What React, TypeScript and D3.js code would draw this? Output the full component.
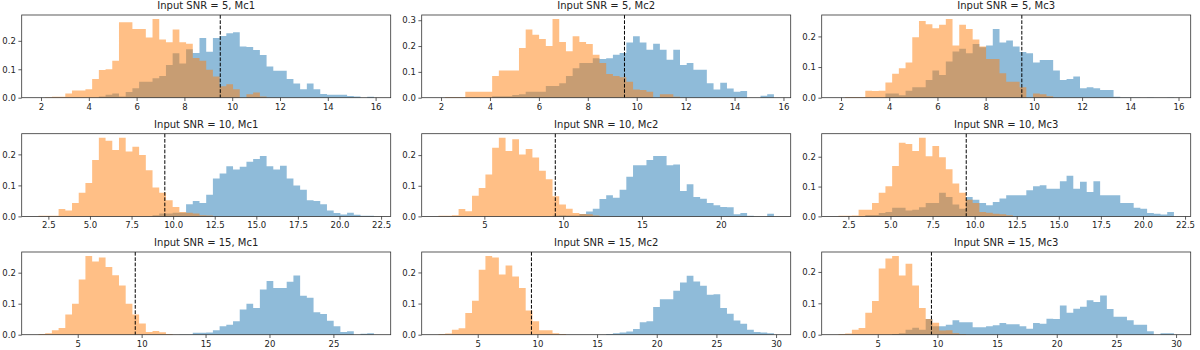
import React, { useEffect, useRef } from "react";
import * as d3 from "d3";

// density per bin (50 shared bins per panel)
const orange5Mc1 = [0, 0.002, 0.003, 0.003, 0.015, 0.025, 0.025, 0.03, 0.066, 0.097, 0.1, 0.13, 0.265, 0.265, 0.242, 0.242, 0.212, 0.277, 0.205, 0.195, 0.24, 0.195, 0.19, 0.14, 0.13, 0.098, 0.075, 0.04, 0.047, 0.03, 0, 0.012, 0.018, 0.004, 0, 0, 0, 0, 0, 0, 0, 0, 0, 0, 0, 0, 0, 0, 0, 0];
const blue5Mc1 = [0, 0, 0, 0, 0, 0, 0, 0, 0, 0.004, 0.01, 0.015, 0.004, 0.02, 0.033, 0.056, 0.056, 0.068, 0.076, 0.115, 0.156, 0.12, 0.17, 0.157, 0.21, 0.162, 0.21, 0.217, 0.227, 0.23, 0.18, 0.178, 0.168, 0.15, 0.11, 0.095, 0.095, 0.066, 0.05, 0.03, 0.05, 0.03, 0.013, 0.01, 0.01, 0.01, 0.006, 0.004, 0, 0.003];
const orange5Mc2 = [0, 0.003, 0.003, 0.003, 0.023, 0.023, 0.023, 0.023, 0.084, 0.105, 0.105, 0.105, 0.192, 0.264, 0.244, 0.227, 0.2, 0.305, 0.216, 0.18, 0.238, 0.216, 0.208, 0.166, 0.134, 0.092, 0.084, 0.079, 0.062, 0.032, 0.03, 0.023, 0, 0.013, 0.013, 0.004, 0, 0, 0, 0, 0, 0, 0, 0, 0, 0, 0, 0, 0, 0];
const blue5Mc2 = [0, 0, 0, 0, 0, 0, 0, 0, 0.006, 0.006, 0.006, 0.01, 0.013, 0.023, 0.023, 0.023, 0.045, 0.045, 0.056, 0.084, 0.114, 0.134, 0.134, 0.153, 0.15, 0.153, 0.166, 0.173, 0.214, 0.238, 0.214, 0.186, 0.209, 0.186, 0.147, 0.186, 0.127, 0.134, 0.108, 0.108, 0.056, 0.032, 0.058, 0.036, 0.023, 0.026, 0, 0, 0.008, 0.013];
const orange5Mc3 = [0, 0.002, 0.002, 0.002, 0.023, 0.022, 0.023, 0.05, 0.078, 0.096, 0.115, 0.197, 0.25, 0.24, 0.227, 0.238, 0.257, 0.17, 0.238, 0.224, 0.19, 0.167, 0.126, 0.126, 0.08, 0.052, 0.052, 0.034, 0, 0.014, 0.011, 0.005, 0, 0, 0, 0, 0, 0, 0, 0, 0, 0, 0, 0, 0, 0, 0, 0, 0, 0];
const blue5Mc3 = [0, 0, 0, 0, 0, 0, 0, 0.014, 0.014, 0.008, 0.023, 0.034, 0.034, 0.058, 0.089, 0.074, 0.118, 0.151, 0.16, 0.145, 0.175, 0.165, 0.17, 0.224, 0.18, 0.187, 0.167, 0.149, 0.145, 0.115, 0.123, 0.123, 0.089, 0.058, 0.061, 0.069, 0.031, 0.034, 0.031, 0.025, 0.025, 0.003, 0.001, 0.001, 0.001, 0, 0.001, 0, 0, 0.001];

const orange10Mc1 = [0.002, 0.002, 0.002, 0.024, 0.019, 0.043, 0.076, 0.108, 0.182, 0.254, 0.244, 0.214, 0.254, 0.209, 0.225, 0.198, 0.149, 0.093, 0.076, 0.052, 0.03, 0.014, 0.012, 0.009, 0.004, 0.003, 0, 0, 0, 0, 0, 0, 0, 0, 0, 0, 0, 0, 0, 0, 0, 0, 0, 0, 0, 0, 0, 0, 0, 0];
const blue10Mc1 = [0, 0, 0, 0, 0, 0, 0, 0, 0, 0, 0, 0, 0, 0, 0, 0, 0, 0.004, 0.009, 0.009, 0.012, 0.012, 0.039, 0.05, 0.043, 0.07, 0.122, 0.138, 0.162, 0.151, 0.16, 0.176, 0.185, 0.195, 0.162, 0.151, 0.163, 0.122, 0.1, 0.086, 0.052, 0.05, 0.039, 0.019, 0.011, 0.006, 0.012, 0.005, 0.002, 0.002];
const orange10Mc2 = [0.002, 0.002, 0.004, 0.024, 0.017, 0.067, 0.093, 0.137, 0.224, 0.257, 0.213, 0.252, 0.202, 0.22, 0.192, 0.149, 0.121, 0.066, 0.039, 0.025, 0.011, 0.008, 0.007, 0.003, 0, 0, 0, 0, 0, 0, 0, 0, 0, 0, 0, 0, 0, 0, 0, 0, 0, 0, 0, 0, 0, 0, 0, 0, 0, 0];
const blue10Mc2 = [0, 0, 0, 0, 0, 0, 0, 0, 0, 0, 0, 0, 0, 0, 0, 0, 0, 0.003, 0.004, 0.003, 0.003, 0.008, 0.016, 0.025, 0.057, 0.069, 0.061, 0.087, 0.129, 0.167, 0.167, 0.184, 0.197, 0.197, 0.167, 0.169, 0.083, 0.105, 0.063, 0.058, 0.044, 0.036, 0.031, 0.03, 0.007, 0.011, 0.002, 0, 0, 0.009];
const orange10Mc3 = [0.002, 0.002, 0.003, 0.022, 0.022, 0.045, 0.079, 0.101, 0.169, 0.247, 0.243, 0.219, 0.264, 0.202, 0.236, 0.198, 0.158, 0.11, 0.079, 0.056, 0.045, 0.015, 0.012, 0.009, 0.007, 0.004, 0, 0, 0, 0, 0, 0, 0, 0, 0, 0, 0, 0, 0, 0, 0, 0, 0, 0, 0, 0, 0, 0, 0, 0];
const blue10Mc3 = [0, 0, 0, 0, 0.005, 0.005, 0.011, 0.015, 0.029, 0.029, 0.02, 0.022, 0.031, 0.045, 0.045, 0.079, 0.065, 0.04, 0.026, 0.065, 0.056, 0.045, 0.037, 0.048, 0.06, 0.071, 0.071, 0.071, 0.088, 0.101, 0.104, 0.093, 0.093, 0.118, 0.136, 0.093, 0.116, 0.082, 0.118, 0.071, 0.071, 0.071, 0.045, 0.045, 0.029, 0.026, 0.011, 0.009, 0.006, 0.015];

const orange15Mc1 = [0.002, 0.005, 0.014, 0.022, 0.065, 0.1, 0.178, 0.254, 0.236, 0.249, 0.218, 0.192, 0.159, 0.1, 0.065, 0.036, 0.009, 0.012, 0.008, 0.002, 0, 0, 0, 0, 0, 0, 0, 0, 0, 0, 0, 0, 0, 0, 0, 0, 0, 0, 0, 0, 0, 0, 0, 0, 0, 0, 0, 0, 0, 0];
const blue15Mc1 = [0, 0, 0, 0, 0, 0, 0, 0, 0, 0, 0, 0, 0, 0, 0, 0, 0, 0, 0, 0, 0, 0.001, 0.001, 0.006, 0.006, 0.007, 0.014, 0.027, 0.032, 0.043, 0.081, 0.1, 0.086, 0.146, 0.173, 0.151, 0.151, 0.171, 0.191, 0.126, 0.119, 0.072, 0.067, 0.045, 0.027, 0.009, 0.011, 0, 0.003, 0.005];
const orange15Mc2 = [0.002, 0.004, 0.016, 0.021, 0.07, 0.109, 0.209, 0.253, 0.248, 0.193, 0.222, 0.187, 0.15, 0.078, 0.043, 0.014, 0.014, 0.005, 0.002, 0, 0, 0, 0, 0, 0, 0, 0, 0, 0, 0, 0, 0, 0, 0, 0, 0, 0, 0, 0, 0, 0, 0, 0, 0, 0, 0, 0, 0, 0, 0];
const blue15Mc2 = [0, 0, 0, 0, 0, 0, 0, 0, 0, 0, 0, 0, 0, 0, 0, 0, 0, 0, 0, 0, 0, 0, 0, 0, 0, 0.002, 0.005, 0.007, 0.01, 0.018, 0.04, 0.043, 0.089, 0.114, 0.114, 0.141, 0.168, 0.189, 0.171, 0.157, 0.128, 0.13, 0.086, 0.067, 0.046, 0.035, 0.016, 0.009, 0.007, 0.005];
const orange15Mc3 = [0.002, 0.004, 0.016, 0.021, 0.07, 0.107, 0.211, 0.243, 0.251, 0.189, 0.226, 0.157, 0.085, 0.05, 0.038, 0.013, 0.014, 0.005, 0.002, 0, 0, 0, 0, 0, 0, 0, 0, 0, 0, 0, 0, 0, 0, 0, 0, 0, 0, 0, 0, 0, 0, 0, 0, 0, 0, 0, 0, 0, 0, 0];
const blue15Mc3 = [0, 0, 0, 0, 0, 0, 0, 0, 0.002, 0.005, 0.016, 0.022, 0.016, 0.05, 0.027, 0.027, 0.032, 0.046, 0.04, 0.04, 0.024, 0.024, 0.027, 0.03, 0.037, 0.033, 0.033, 0.027, 0.019, 0.037, 0.035, 0.051, 0.05, 0.093, 0.07, 0.083, 0.089, 0.11, 0.104, 0.125, 0.082, 0.057, 0.057, 0.046, 0.032, 0.032, 0.011, 0, 0.005, 0.005];

// min / max of the pooled samples (bin edges span this)
const binRanges = [
  [1.893, 15.93], [1.895, 15.61], [1.894, 15.81],
  [1.905, 22.07], [2.09, 23.37], [1.91, 21.84],
  [1.93, 28.17], [1.71, 29.82], [1.71, 29.82],
];

const xTicks5 = [2, 4, 6, 8, 10, 12, 14, 16];
const xTicks10a = [2.5, 5, 7.5, 10, 12.5, 15, 17.5, 20, 22.5];
const xTicks10b = [5, 10, 15, 20];
const xTicks15a = [5, 10, 15, 20, 25];
const xTicks15b = [5, 10, 15, 20, 25, 30];

const snrs = [5, 10, 15];
const mcs = ["Mc1", "Mc2", "Mc3"];
const threshold = 9.5;

const panels = [
  { blue: blue5Mc1, orange: orange5Mc1, ticks: xTicks5 },
  { blue: blue5Mc2, orange: orange5Mc2, ticks: xTicks5 },
  { blue: blue5Mc3, orange: orange5Mc3, ticks: xTicks5 },
  { blue: blue10Mc1, orange: orange10Mc1, ticks: xTicks10a },
  { blue: blue10Mc2, orange: orange10Mc2, ticks: xTicks10b },
  { blue: blue10Mc3, orange: orange10Mc3, ticks: xTicks10a },
  { blue: blue15Mc1, orange: orange15Mc1, ticks: xTicks15a },
  { blue: blue15Mc2, orange: orange15Mc2, ticks: xTicks15b },
  { blue: blue15Mc3, orange: orange15Mc3, ticks: xTicks15b },
];

const App = () => {
  const ref = useRef<HTMLDivElement>(null);

  useEffect(() => {
    const width = 1200;
    const height = 350;
    const colLeft = [21.7, 421.7, 821.7];
    const rowTop = [15, 133.7, 252];
    const w = 369;
    const h = 82.7;
    const font = "DejaVu Sans, sans-serif";

    d3.select(ref.current).select("svg").remove();

    const svg = d3
      .select(ref.current)
      .append("svg")
      .attr("width", width)
      .attr("height", height)
      .style("position", "absolute")
      .style("left", 0)
      .style("top", 0)
      .style("background", "#fff");

    panels.forEach((p, k) => {
      const row = Math.floor(k / 3);
      const col = k % 3;
      const [lo, hi] = binRanges[k];
      const span = hi - lo;

      const x = d3
        .scaleLinear()
        .domain([lo - 0.05 * span, hi + 0.05 * span])
        .range([0, w]);
      const ymax = d3.max([...p.blue, ...p.orange]) as number;
      const y = d3.scaleLinear().domain([0, ymax * 1.05]).range([h, 0]);

      const g = svg
        .append("g")
        .attr("transform", `translate(${colLeft[col]},${rowTop[row]})`);

      const edges = d3.range(p.blue.length + 1).map((i) => lo + (span * i) / p.blue.length);
      const area = d3
        .area<[number, number]>()
        .x((d) => x(d[0]))
        .y0(y(0))
        .y1((d) => y(d[1]))
        .curve(d3.curveStepAfter);

      const toPts = (vals: number[]) => {
        const pts: [number, number][] = vals.map((v, i) => [edges[i], v]);
        pts.push([edges[vals.length], vals[vals.length - 1]]);
        return pts;
      };

      // blue first, orange over it
      g.append("path")
        .attr("d", area(toPts(p.blue)))
        .attr("fill", "#1f77b4")
        .attr("fill-opacity", 0.5);
      g.append("path")
        .attr("d", area(toPts(p.orange)))
        .attr("fill", "#ff7f0e")
        .attr("fill-opacity", 0.5);

      g.append("line")
        .attr("x1", x(threshold))
        .attr("x2", x(threshold))
        .attr("y1", 0)
        .attr("y2", h)
        .attr("stroke", "#000")
        .attr("stroke-width", 1)
        .attr("stroke-dasharray", "3.7,1.6");

      const decimals = p.ticks.some((t) => !Number.isInteger(t));
      const xAxis = d3
        .axisBottom(x)
        .tickValues(p.ticks)
        .tickSize(3.3)
        .tickPadding(2.5)
        .tickFormat((d) => d3.format(decimals ? ".1f" : "d")(d as number));
      const yAxis = d3
        .axisLeft(y)
        .ticks(3)
        .tickSize(3.3)
        .tickPadding(2.5)
        .tickFormat((d) => d3.format(".1f")(d as number));

      const xa = g.append("g").attr("transform", `translate(0,${h})`).call(xAxis);
      const ya = g.append("g").call(yAxis);
      [xa, ya].forEach((a) => {
        a.select(".domain").remove();
        a.selectAll("line").attr("stroke", "#333").attr("stroke-width", 0.8);
        a.selectAll("text")
          .style("font-family", font)
          .style("font-size", "8.5px")
          .attr("fill", "#222");
      });

      g.append("rect")
        .attr("width", w)
        .attr("height", h)
        .attr("fill", "none")
        .attr("stroke", "#333")
        .attr("stroke-width", 0.8);

      g.append("text")
        .attr("x", w / 2)
        .attr("y", -6)
        .attr("text-anchor", "middle")
        .style("font-family", font)
        .style("font-size", "10px")
        .attr("fill", "#222")
        .text(`Input SNR = ${snrs[row]}, ${mcs[col]}`);
    });
  }, []);

  return <div ref={ref} />;
};

export default App;
